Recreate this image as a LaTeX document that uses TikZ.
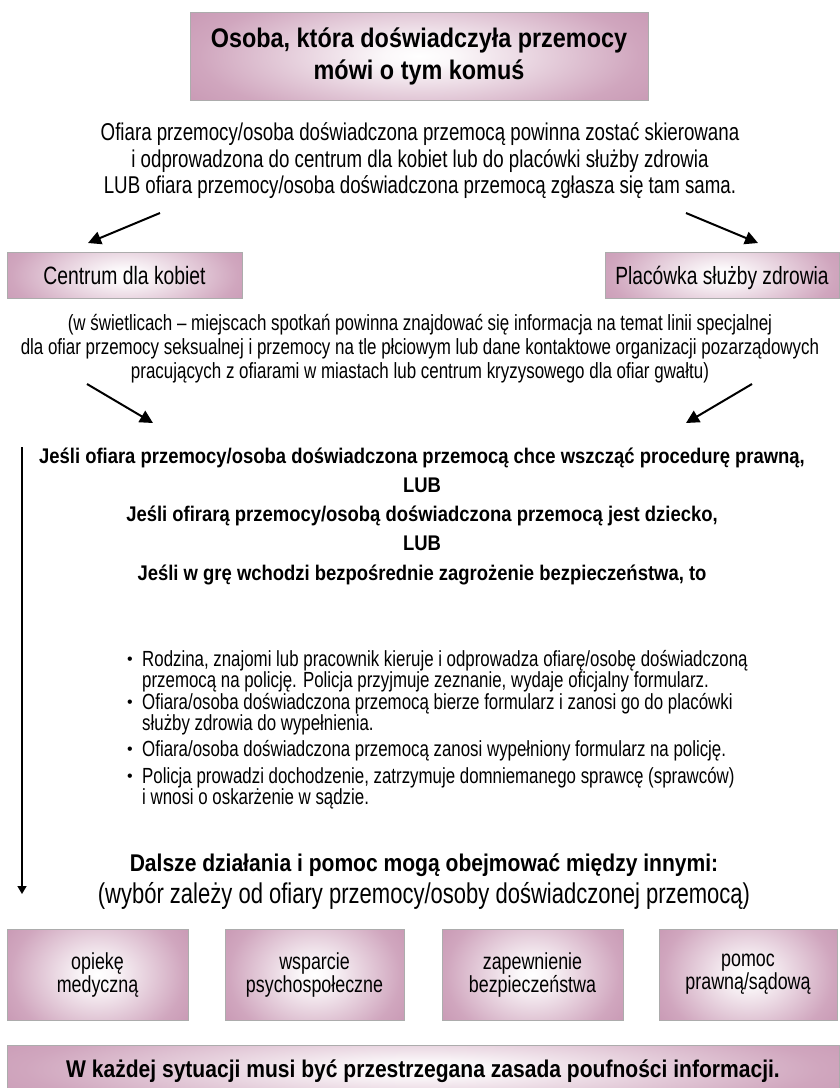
\documentclass[tikz,border=0pt]{standalone}
\usepackage{fontspec}
\usetikzlibrary{arrows.meta}
\setmainfont{Liberation Sans}
\newfontfamily\condfont[FakeStretch=0.77]{Liberation Sans}
\newfontfamily\condbold[FakeStretch=0.87]{Liberation Sans}

\definecolor{mauve}{RGB}{182,122,157}
\definecolor{mauvemid}{RGB}{208,166,190}
\pgfdeclareradialshading{boxshade}{\pgfpoint{0bp}{0bp}}{color(0bp)=(white); color(4bp)=(white!94!mauve); color(24bp)=(mauvemid); color(46bp)=(mauve); color(50bp)=(mauve)}

\tikzset{
  mbox/.style={draw=gray!65, line width=0.9pt, inner sep=0pt, align=center,
    path picture={\shade[shading=boxshade] ([yshift=-25pt]path picture bounding box.south west) rectangle ([yshift=25pt]path picture bounding box.north east);}},
  txt/.style={inner sep=0pt, align=center},
  oneline/.style={text height=#1, text depth=0pt},
  arr/.style={line width=2pt, -{Triangle[length=13pt,width=13pt]}},
  darr/.style={line width=1.6pt, -{Triangle[length=8pt,width=9pt]}}
}

\begin{document}
\begin{tikzpicture}[x=1pt,y=-1pt]
\useasboundingbox (0,0) rectangle (839,1088);

% top of the chart
\node[mbox, minimum width=458, minimum height=88, font=\condbold\bfseries\fontsize{26.9}{32}\selectfont] (who) at (419,56) {Osoba, która doświadczyła przemocy\\mówi o tym komuś};
\node[txt, font=\condfont\fontsize{24.3}{26.5}\selectfont] (refer) at (420,161) {Ofiara przemocy/osoba doświadczona przemocą powinna zostać skierowana\\i odprowadzona do centrum dla kobiet lub do placówki służby zdrowia\\LUB ofiara przemocy/osoba doświadczona przemocą zgłasza się tam sama.};

\node[mbox, oneline=18pt, minimum width=235, minimum height=46, font=\condfont\fontsize{25.1}{26}\selectfont] (women) at (124.5,275) {Centrum dla kobiet};
\node[mbox, oneline=18pt, minimum width=234, minimum height=46, font=\condfont\fontsize{24.9}{26}\selectfont] (health) at (722,275) {Placówka służby zdrowia};

\coordinate (w1) at (160,213); \coordinate (w2) at (88,243);
\coordinate (h1) at (686,213); \coordinate (h2) at (758,243);
\draw[arr] (w1) -- (w2);
\draw[arr] (h1) -- (h2);

\node[txt, font=\condfont\fontsize{22}{24}\selectfont] (note) at (420,349) {(w świetlicach – miejscach spotkań powinna znajdować się informacja na temat linii specjalnej\\dla ofiar przemocy seksualnej i przemocy na tle płciowym lub dane kontaktowe organizacji pozarządowych\\pracujących z ofiarami w miastach lub centrum kryzysowego dla ofiar gwałtu)};

\coordinate (n1) at (87,384); \coordinate (n2) at (153,423);
\coordinate (m1) at (752,384); \coordinate (m2) at (686,423);
\draw[arr] (n1) -- (n2);
\draw[arr] (m1) -- (m2);

% legal procedure
\node[txt, font=\condbold\bfseries\fontsize{21.2}{29.25}\selectfont] (cond) at (422,516) {Jeśli ofiara przemocy/osoba doświadczona przemocą chce wszcząć procedurę prawną,\\LUB\\Jeśli ofirarą przemocy/osobą doświadczona przemocą jest dziecko,\\LUB\\Jeśli w grę wchodzi bezpośrednie zagrożenie bezpieczeństwa, to};

\tikzset{btext/.style={inner sep=0pt, align=left, anchor=north west, font=\condfont\fontsize{21.9}{20}\selectfont},
  bdot/.style={inner sep=0pt, font=\fontsize{16}{16}\selectfont}}
\node[btext] (p1) at (142,650) {Rodzina, znajomi lub pracownik kieruje i odprowadza ofiarę/osobę doświadczoną\\przemocą na policję. Policja przyjmuje zeznanie, wydaje oficjalny formularz.};
\node[btext] (p2) at (142,693) {Ofiara/osoba doświadczona przemocą bierze formularz i zanosi go do placówki\\służby zdrowia do wypełnienia.};
\node[btext] (p3) at (142,740) {Ofiara/osoba doświadczona przemocą zanosi wypełniony formularz na policję.};
\node[btext] (p4) at (142,767) {Policja prowadzi dochodzenie, zatrzymuje domniemanego sprawcę (sprawców)\\i wnosi o oskarżenie w sądzie.};
\foreach \p in {p1,p2,p3,p4}
  \node[bdot, anchor=east] at ([xshift=-9pt,yshift=-11pt]\p.north west) {•};

\coordinate (down1) at (22,447); \coordinate (down2) at (22,894);
\draw[darr] (down1) -- (down2);

% further help
\node[txt, oneline=17pt, font=\condbold\bfseries\fontsize{24.2}{28}\selectfont] (more) at (424,863) {Dalsze działania i pomoc mogą obejmować między innymi:};
\node[txt, oneline=20pt, font=\condfont\fontsize{28.6}{28}\selectfont] (choice) at (424,893) {(wybór zależy od ofiary przemocy/osoby doświadczonej przemocą)};

\tikzset{hbox/.style={mbox, minimum height=91, font=\condfont\fontsize{23.2}{23}\selectfont}}
\node[hbox, minimum width=181] (med) at (97.5,974.5) {opiekę\\medyczną};
\node[hbox, minimum width=179] (psy) at (314.5,974.5) {wsparcie\\psychospołeczne};
\node[hbox, minimum width=181] (safe) at (532.5,974.5) {zapewnienie\\bezpieczeństwa};
\node[hbox, minimum width=178] (law) at (748,974.5) {pomoc\\prawną/sądową};

\node[mbox, oneline=17pt, minimum width=832, minimum height=48, font=\condbold\bfseries\fontsize{24.2}{28}\selectfont] (secret) at (423,1069) {W każdej sytuacji musi być przestrzegana zasada poufności informacji.};
\end{tikzpicture}
\end{document}
